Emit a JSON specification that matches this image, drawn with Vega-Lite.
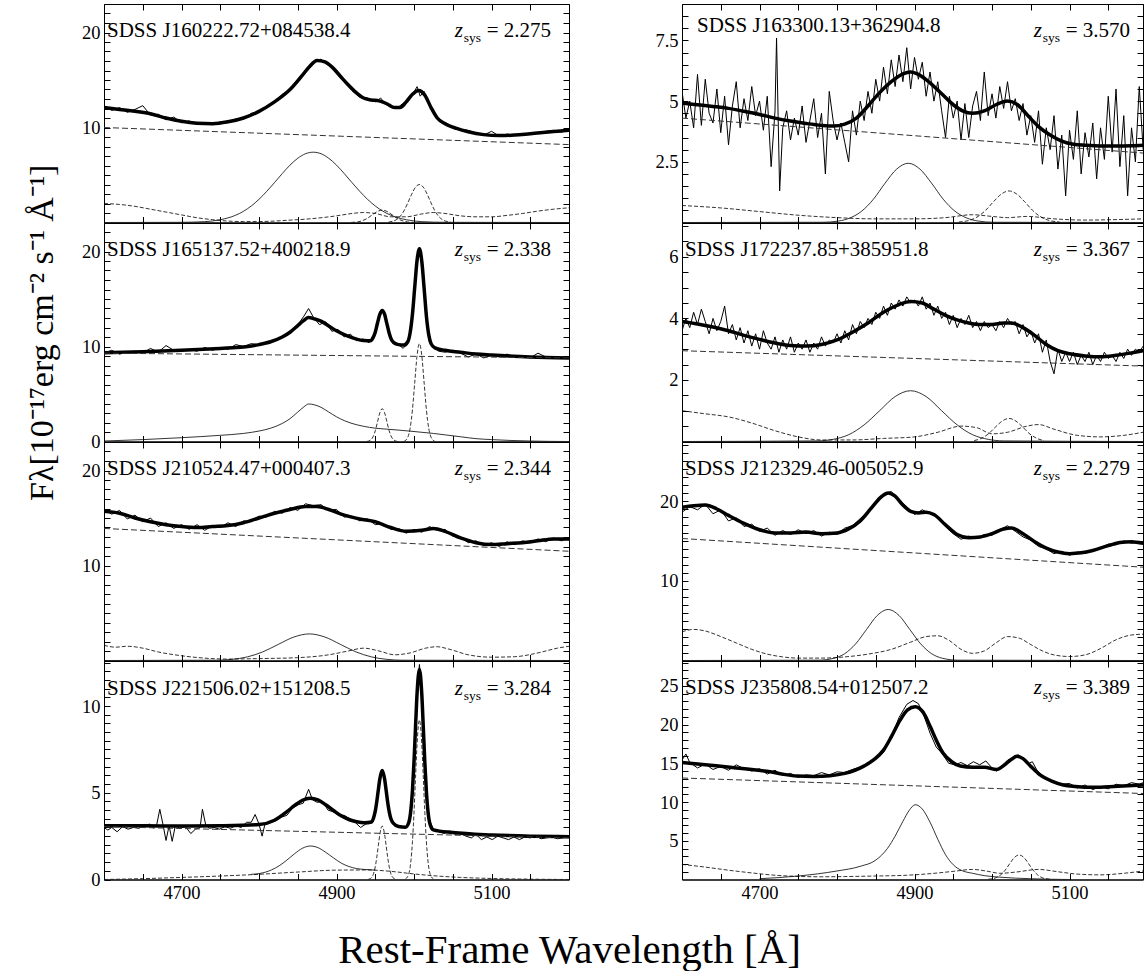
{
"$schema": "https://vega.github.io/schema/vega-lite/v6.json",
"background": "white",
"padding": {"left": 24, "top": 3, "right": 0, "bottom": 0},
"title": {"text": "Rest-Frame Wavelength [Å]", "orient": "bottom", "anchor": "middle", "fontSize": 41, "offset": 28, "dx": -15},
"columns": 2,
"spacing": {"row": 0, "column": 113},
"bounds": "flush",
"concat": [
 {"width": 465, "height": 218.5, "data": {"name": "L1"},
  "layer": [
   {"transform": [{"filter": "datum.s=='o'"}], "mark": {"type": "line", "strokeWidth": 1, "clip": true},
    "encoding": {"x": {"field": "x", "type": "quantitative", "scale": {"domain": [4600, 5200], "nice": false, "zero": false}, "axis": {"values": [4650,4700,4750,4800,4850,4900,4950,5000,5050,5100,5150], "labels": false}},
     "y": {"field": "y", "type": "quantitative", "scale": {"domain": [0, 23], "nice": false, "zero": false}, "axis": {"values": [1,2,3,4,5,6,7,8,9,10,11,12,13,14,15,16,17,18,19,20,21,22], "labelExpr": "datum.value==10||datum.value==20 ? datum.label : ''"}}}},
   {"transform": [{"filter": "datum.s=='m'"}], "mark": {"type": "line", "strokeWidth": 3.5, "interpolate": "monotone", "clip": true},
    "encoding": {"x": {"field": "x", "type": "quantitative", "axis": {"orient": "top", "values": [4650,4700,4750,4800,4850,4900,4950,5000,5050,5100,5150], "labels": false}},
     "y": {"field": "y", "type": "quantitative", "axis": {"orient": "right", "values": [1,2,3,4,5,6,7,8,9,10,11,12,13,14,15,16,17,18,19,20,21,22], "labels": false}}}},
   {"transform": [{"filter": "datum.s=='c'"}], "mark": {"type": "line", "strokeWidth": 1, "strokeDash": [6,3], "color": "#333", "clip": true},
    "encoding": {"x": {"field": "x", "type": "quantitative", "axis": null}, "y": {"field": "y", "type": "quantitative", "axis": null}}},
   {"transform": [{"filter": "datum.s=='b'"}], "mark": {"type": "line", "strokeWidth": 0.8, "interpolate": "monotone", "clip": true},
    "encoding": {"x": {"field": "x", "type": "quantitative", "axis": null}, "y": {"field": "y", "type": "quantitative", "axis": null}}},
   {"transform": [{"filter": "datum.s=='f'||datum.s=='n1'||datum.s=='n2'"}], "mark": {"type": "line", "strokeWidth": 0.8, "strokeDash": [4,2], "interpolate": "monotone", "clip": true},
    "encoding": {"x": {"field": "x", "type": "quantitative", "axis": null}, "y": {"field": "y", "type": "quantitative", "axis": null}, "detail": {"field": "s"}}},
   {"data": {"name": "labels"}, "transform": [{"filter": "datum.p=='L1'"}],
    "encoding": {"y": {"datum": 19.5, "type": "quantitative", "axis": null}},
    "layer": [
     {"mark": {"type": "text", "align": "left", "dx": 3}, "encoding": {"x": {"datum": 4600, "type": "quantitative", "axis": null}, "text": {"field": "name"}}},
     {"mark": {"type": "text", "align": "right", "dx": -18}, "encoding": {"x": {"datum": 5200, "type": "quantitative", "axis": null}, "text": {"field": "z"}}},
     {"mark": {"type": "text", "align": "right", "dx": -88, "dy": 5, "fontSize": 13.5}, "encoding": {"x": {"datum": 5200, "type": "quantitative", "axis": null}, "text": {"value": "sys"}}},
     {"mark": {"type": "text", "align": "right", "dx": -106, "fontStyle": "italic"}, "encoding": {"x": {"datum": 5200, "type": "quantitative", "axis": null}, "text": {"value": "z"}}}
    ]}
  ],
  "resolve": {"axis": {"x": "independent", "y": "independent"}}},
 {"width": 461, "height": 218.5, "data": {"name": "R1"},
  "layer": [
   {"transform": [{"filter": "datum.s=='o'"}], "mark": {"type": "line", "strokeWidth": 1, "clip": true},
    "encoding": {"x": {"field": "x", "type": "quantitative", "scale": {"domain": [4600, 5194.8], "nice": false, "zero": false}, "axis": {"values": [4650,4700,4750,4800,4850,4900,4950,5000,5050,5100,5150], "labels": false}},
     "y": {"field": "y", "type": "quantitative", "scale": {"domain": [0, 9], "nice": false, "zero": false}, "axis": {"values": [0.5,1,1.5,2,2.5,3,3.5,4,4.5,5,5.5,6,6.5,7,7.5,8,8.5], "labelExpr": "datum.value%2.5==0 ? datum.label : ''"}}}},
   {"transform": [{"filter": "datum.s=='m'"}], "mark": {"type": "line", "strokeWidth": 3.5, "interpolate": "monotone", "clip": true},
    "encoding": {"x": {"field": "x", "type": "quantitative", "axis": {"orient": "top", "values": [4650,4700,4750,4800,4850,4900,4950,5000,5050,5100,5150], "labels": false}},
     "y": {"field": "y", "type": "quantitative", "axis": {"orient": "right", "values": [0.5,1,1.5,2,2.5,3,3.5,4,4.5,5,5.5,6,6.5,7,7.5,8,8.5], "labels": false}}}},
   {"transform": [{"filter": "datum.s=='c'"}], "mark": {"type": "line", "strokeWidth": 1, "strokeDash": [6,3], "color": "#333", "clip": true},
    "encoding": {"x": {"field": "x", "type": "quantitative", "axis": null}, "y": {"field": "y", "type": "quantitative", "axis": null}}},
   {"transform": [{"filter": "datum.s=='b'"}], "mark": {"type": "line", "strokeWidth": 0.8, "interpolate": "monotone", "clip": true},
    "encoding": {"x": {"field": "x", "type": "quantitative", "axis": null}, "y": {"field": "y", "type": "quantitative", "axis": null}}},
   {"transform": [{"filter": "datum.s=='f'||datum.s=='n1'||datum.s=='n2'"}], "mark": {"type": "line", "strokeWidth": 0.8, "strokeDash": [4,2], "interpolate": "monotone", "clip": true},
    "encoding": {"x": {"field": "x", "type": "quantitative", "axis": null}, "y": {"field": "y", "type": "quantitative", "axis": null}, "detail": {"field": "s"}}},
   {"data": {"name": "labels"}, "transform": [{"filter": "datum.p=='R1'"}],
    "encoding": {"y": {"datum": 7.64, "type": "quantitative", "axis": null}},
    "layer": [
     {"mark": {"type": "text", "align": "left", "dx": 15}, "encoding": {"x": {"datum": 4600, "type": "quantitative", "axis": null}, "y": {"datum": 7.84, "type": "quantitative", "axis": null}, "text": {"field": "name"}}},
     {"mark": {"type": "text", "align": "right", "dx": -13}, "encoding": {"x": {"datum": 5194.8, "type": "quantitative", "axis": null}, "text": {"field": "z"}}},
     {"mark": {"type": "text", "align": "right", "dx": -83, "dy": 5, "fontSize": 13.5}, "encoding": {"x": {"datum": 5194.8, "type": "quantitative", "axis": null}, "text": {"value": "sys"}}},
     {"mark": {"type": "text", "align": "right", "dx": -101, "fontStyle": "italic"}, "encoding": {"x": {"datum": 5194.8, "type": "quantitative", "axis": null}, "text": {"value": "z"}}}
    ]}
  ],
  "resolve": {"axis": {"x": "independent", "y": "independent"}}},
 {"width": 465, "height": 218.5, "data": {"name": "L2"},
  "layer": [
   {"transform": [{"filter": "datum.s=='o'"}], "mark": {"type": "line", "strokeWidth": 1, "clip": true},
    "encoding": {"x": {"field": "x", "type": "quantitative", "scale": {"domain": [4600, 5200], "nice": false, "zero": false}, "axis": {"values": [4650,4700,4750,4800,4850,4900,4950,5000,5050,5100,5150], "labels": false}},
     "y": {"field": "y", "type": "quantitative", "scale": {"domain": [0, 23], "nice": false, "zero": false}, "axis": {"values": [0,1,2,3,4,5,6,7,8,9,10,11,12,13,14,15,16,17,18,19,20,21,22], "labelExpr": "datum.value%10==0 ? datum.label : ''",
      "title": "Fλ[10⁻¹⁷erg cm⁻² s⁻¹ Å⁻¹]", "titleFont": "Liberation Serif", "titleFontSize": 34, "titleFontWeight": "normal", "titleColor": "black", "titlePadding": 22}}}},
   {"transform": [{"filter": "datum.s=='m'"}], "mark": {"type": "line", "strokeWidth": 3.5, "interpolate": "monotone", "clip": true},
    "encoding": {"x": {"field": "x", "type": "quantitative", "axis": {"orient": "top", "values": [4650,4700,4750,4800,4850,4900,4950,5000,5050,5100,5150], "labels": false}},
     "y": {"field": "y", "type": "quantitative", "axis": {"orient": "right", "values": [1,2,3,4,5,6,7,8,9,10,11,12,13,14,15,16,17,18,19,20,21,22], "labels": false}}}},
   {"transform": [{"filter": "datum.s=='c'"}], "mark": {"type": "line", "strokeWidth": 1, "strokeDash": [6,3], "color": "#333", "clip": true},
    "encoding": {"x": {"field": "x", "type": "quantitative", "axis": null}, "y": {"field": "y", "type": "quantitative", "axis": null}}},
   {"transform": [{"filter": "datum.s=='b'"}], "mark": {"type": "line", "strokeWidth": 0.8, "interpolate": "monotone", "clip": true},
    "encoding": {"x": {"field": "x", "type": "quantitative", "axis": null}, "y": {"field": "y", "type": "quantitative", "axis": null}}},
   {"transform": [{"filter": "datum.s=='f'||datum.s=='n1'||datum.s=='n2'"}], "mark": {"type": "line", "strokeWidth": 0.8, "strokeDash": [4,2], "interpolate": "monotone", "clip": true},
    "encoding": {"x": {"field": "x", "type": "quantitative", "axis": null}, "y": {"field": "y", "type": "quantitative", "axis": null}, "detail": {"field": "s"}}},
   {"data": {"name": "labels"}, "transform": [{"filter": "datum.p=='L2'"}],
    "encoding": {"y": {"datum": 19.5, "type": "quantitative", "axis": null}},
    "layer": [
     {"mark": {"type": "text", "align": "left", "dx": 3}, "encoding": {"x": {"datum": 4600, "type": "quantitative", "axis": null}, "text": {"field": "name"}}},
     {"mark": {"type": "text", "align": "right", "dx": -18}, "encoding": {"x": {"datum": 5200, "type": "quantitative", "axis": null}, "text": {"field": "z"}}},
     {"mark": {"type": "text", "align": "right", "dx": -88, "dy": 5, "fontSize": 13.5}, "encoding": {"x": {"datum": 5200, "type": "quantitative", "axis": null}, "text": {"value": "sys"}}},
     {"mark": {"type": "text", "align": "right", "dx": -106, "fontStyle": "italic"}, "encoding": {"x": {"datum": 5200, "type": "quantitative", "axis": null}, "text": {"value": "z"}}}
    ]}
  ],
  "resolve": {"axis": {"x": "independent", "y": "independent"}}},
 {"width": 461, "height": 218.5, "data": {"name": "R2"},
  "layer": [
   {"transform": [{"filter": "datum.s=='o'"}], "mark": {"type": "line", "strokeWidth": 1, "clip": true},
    "encoding": {"x": {"field": "x", "type": "quantitative", "scale": {"domain": [4600, 5194.8], "nice": false, "zero": false}, "axis": {"values": [4650,4700,4750,4800,4850,4900,4950,5000,5050,5100,5150], "labels": false}},
     "y": {"field": "y", "type": "quantitative", "scale": {"domain": [0, 7.1], "nice": false, "zero": false}, "axis": {"values": [0.5,1,1.5,2,2.5,3,3.5,4,4.5,5,5.5,6,6.5,7], "labelExpr": "datum.value%2==0 ? datum.label : ''"}}}},
   {"transform": [{"filter": "datum.s=='m'"}], "mark": {"type": "line", "strokeWidth": 3.5, "interpolate": "monotone", "clip": true},
    "encoding": {"x": {"field": "x", "type": "quantitative", "axis": {"orient": "top", "values": [4650,4700,4750,4800,4850,4900,4950,5000,5050,5100,5150], "labels": false}},
     "y": {"field": "y", "type": "quantitative", "axis": {"orient": "right", "values": [0.5,1,1.5,2,2.5,3,3.5,4,4.5,5,5.5,6,6.5,7], "labels": false}}}},
   {"transform": [{"filter": "datum.s=='c'"}], "mark": {"type": "line", "strokeWidth": 1, "strokeDash": [6,3], "color": "#333", "clip": true},
    "encoding": {"x": {"field": "x", "type": "quantitative", "axis": null}, "y": {"field": "y", "type": "quantitative", "axis": null}}},
   {"transform": [{"filter": "datum.s=='b'"}], "mark": {"type": "line", "strokeWidth": 0.8, "interpolate": "monotone", "clip": true},
    "encoding": {"x": {"field": "x", "type": "quantitative", "axis": null}, "y": {"field": "y", "type": "quantitative", "axis": null}}},
   {"transform": [{"filter": "datum.s=='f'||datum.s=='n1'||datum.s=='n2'"}], "mark": {"type": "line", "strokeWidth": 0.8, "strokeDash": [4,2], "interpolate": "monotone", "clip": true},
    "encoding": {"x": {"field": "x", "type": "quantitative", "axis": null}, "y": {"field": "y", "type": "quantitative", "axis": null}, "detail": {"field": "s"}}},
   {"data": {"name": "labels"}, "transform": [{"filter": "datum.p=='R2'"}],
    "encoding": {"y": {"datum": 6.03, "type": "quantitative", "axis": null}},
    "layer": [
     {"mark": {"type": "text", "align": "left", "dx": 3}, "encoding": {"x": {"datum": 4600, "type": "quantitative", "axis": null}, "text": {"field": "name"}}},
     {"mark": {"type": "text", "align": "right", "dx": -13}, "encoding": {"x": {"datum": 5194.8, "type": "quantitative", "axis": null}, "text": {"field": "z"}}},
     {"mark": {"type": "text", "align": "right", "dx": -83, "dy": 5, "fontSize": 13.5}, "encoding": {"x": {"datum": 5194.8, "type": "quantitative", "axis": null}, "text": {"value": "sys"}}},
     {"mark": {"type": "text", "align": "right", "dx": -101, "fontStyle": "italic"}, "encoding": {"x": {"datum": 5194.8, "type": "quantitative", "axis": null}, "text": {"value": "z"}}}
    ]}
  ],
  "resolve": {"axis": {"x": "independent", "y": "independent"}}},
 {"width": 465, "height": 218.5, "data": {"name": "L3"},
  "layer": [
   {"transform": [{"filter": "datum.s=='o'"}], "mark": {"type": "line", "strokeWidth": 1, "clip": true},
    "encoding": {"x": {"field": "x", "type": "quantitative", "scale": {"domain": [4600, 5200], "nice": false, "zero": false}, "axis": {"values": [4650,4700,4750,4800,4850,4900,4950,5000,5050,5100,5150], "labels": false}},
     "y": {"field": "y", "type": "quantitative", "scale": {"domain": [0, 23], "nice": false, "zero": false}, "axis": {"values": [1,2,3,4,5,6,7,8,9,10,11,12,13,14,15,16,17,18,19,20,21,22], "labelExpr": "datum.value==10||datum.value==20 ? datum.label : ''"}}}},
   {"transform": [{"filter": "datum.s=='m'"}], "mark": {"type": "line", "strokeWidth": 3.5, "interpolate": "monotone", "clip": true},
    "encoding": {"x": {"field": "x", "type": "quantitative", "axis": {"orient": "top", "values": [4650,4700,4750,4800,4850,4900,4950,5000,5050,5100,5150], "labels": false}},
     "y": {"field": "y", "type": "quantitative", "axis": {"orient": "right", "values": [1,2,3,4,5,6,7,8,9,10,11,12,13,14,15,16,17,18,19,20,21,22], "labels": false}}}},
   {"transform": [{"filter": "datum.s=='c'"}], "mark": {"type": "line", "strokeWidth": 1, "strokeDash": [6,3], "color": "#333", "clip": true},
    "encoding": {"x": {"field": "x", "type": "quantitative", "axis": null}, "y": {"field": "y", "type": "quantitative", "axis": null}}},
   {"transform": [{"filter": "datum.s=='b'"}], "mark": {"type": "line", "strokeWidth": 0.8, "interpolate": "monotone", "clip": true},
    "encoding": {"x": {"field": "x", "type": "quantitative", "axis": null}, "y": {"field": "y", "type": "quantitative", "axis": null}}},
   {"transform": [{"filter": "datum.s=='f'||datum.s=='n1'||datum.s=='n2'"}], "mark": {"type": "line", "strokeWidth": 0.8, "strokeDash": [4,2], "interpolate": "monotone", "clip": true},
    "encoding": {"x": {"field": "x", "type": "quantitative", "axis": null}, "y": {"field": "y", "type": "quantitative", "axis": null}, "detail": {"field": "s"}}},
   {"data": {"name": "labels"}, "transform": [{"filter": "datum.p=='L3'"}],
    "encoding": {"y": {"datum": 19.5, "type": "quantitative", "axis": null}},
    "layer": [
     {"mark": {"type": "text", "align": "left", "dx": 3}, "encoding": {"x": {"datum": 4600, "type": "quantitative", "axis": null}, "text": {"field": "name"}}},
     {"mark": {"type": "text", "align": "right", "dx": -18}, "encoding": {"x": {"datum": 5200, "type": "quantitative", "axis": null}, "text": {"field": "z"}}},
     {"mark": {"type": "text", "align": "right", "dx": -88, "dy": 5, "fontSize": 13.5}, "encoding": {"x": {"datum": 5200, "type": "quantitative", "axis": null}, "text": {"value": "sys"}}},
     {"mark": {"type": "text", "align": "right", "dx": -106, "fontStyle": "italic"}, "encoding": {"x": {"datum": 5200, "type": "quantitative", "axis": null}, "text": {"value": "z"}}}
    ]}
  ],
  "resolve": {"axis": {"x": "independent", "y": "independent"}}},
 {"width": 461, "height": 218.5, "data": {"name": "R3"},
  "layer": [
   {"transform": [{"filter": "datum.s=='o'"}], "mark": {"type": "line", "strokeWidth": 1, "clip": true},
    "encoding": {"x": {"field": "x", "type": "quantitative", "scale": {"domain": [4600, 5194.8], "nice": false, "zero": false}, "axis": {"values": [4650,4700,4750,4800,4850,4900,4950,5000,5050,5100,5150], "labels": false}},
     "y": {"field": "y", "type": "quantitative", "scale": {"domain": [0, 27.4], "nice": false, "zero": false}, "axis": {"values": [1,2,3,4,5,6,7,8,9,10,11,12,13,14,15,16,17,18,19,20,21,22,23,24,25,26,27], "labelExpr": "datum.value==10||datum.value==20 ? datum.label : ''"}}}},
   {"transform": [{"filter": "datum.s=='m'"}], "mark": {"type": "line", "strokeWidth": 3.5, "interpolate": "monotone", "clip": true},
    "encoding": {"x": {"field": "x", "type": "quantitative", "axis": {"orient": "top", "values": [4650,4700,4750,4800,4850,4900,4950,5000,5050,5100,5150], "labels": false}},
     "y": {"field": "y", "type": "quantitative", "axis": {"orient": "right", "values": [1,2,3,4,5,6,7,8,9,10,11,12,13,14,15,16,17,18,19,20,21,22,23,24,25,26,27], "labels": false}}}},
   {"transform": [{"filter": "datum.s=='c'"}], "mark": {"type": "line", "strokeWidth": 1, "strokeDash": [6,3], "color": "#333", "clip": true},
    "encoding": {"x": {"field": "x", "type": "quantitative", "axis": null}, "y": {"field": "y", "type": "quantitative", "axis": null}}},
   {"transform": [{"filter": "datum.s=='b'"}], "mark": {"type": "line", "strokeWidth": 0.8, "interpolate": "monotone", "clip": true},
    "encoding": {"x": {"field": "x", "type": "quantitative", "axis": null}, "y": {"field": "y", "type": "quantitative", "axis": null}}},
   {"transform": [{"filter": "datum.s=='f'||datum.s=='n1'||datum.s=='n2'"}], "mark": {"type": "line", "strokeWidth": 0.8, "strokeDash": [4,2], "interpolate": "monotone", "clip": true},
    "encoding": {"x": {"field": "x", "type": "quantitative", "axis": null}, "y": {"field": "y", "type": "quantitative", "axis": null}, "detail": {"field": "s"}}},
   {"data": {"name": "labels"}, "transform": [{"filter": "datum.p=='R3'"}],
    "encoding": {"y": {"datum": 23.25, "type": "quantitative", "axis": null}},
    "layer": [
     {"mark": {"type": "text", "align": "left", "dx": 3}, "encoding": {"x": {"datum": 4600, "type": "quantitative", "axis": null}, "text": {"field": "name"}}},
     {"mark": {"type": "text", "align": "right", "dx": -13}, "encoding": {"x": {"datum": 5194.8, "type": "quantitative", "axis": null}, "text": {"field": "z"}}},
     {"mark": {"type": "text", "align": "right", "dx": -83, "dy": 5, "fontSize": 13.5}, "encoding": {"x": {"datum": 5194.8, "type": "quantitative", "axis": null}, "text": {"value": "sys"}}},
     {"mark": {"type": "text", "align": "right", "dx": -101, "fontStyle": "italic"}, "encoding": {"x": {"datum": 5194.8, "type": "quantitative", "axis": null}, "text": {"value": "z"}}}
    ]}
  ],
  "resolve": {"axis": {"x": "independent", "y": "independent"}}},
 {"width": 465, "height": 218.5, "data": {"name": "L4"},
  "layer": [
   {"transform": [{"filter": "datum.s=='o'"}], "mark": {"type": "line", "strokeWidth": 1, "clip": true},
    "encoding": {"x": {"field": "x", "type": "quantitative", "scale": {"domain": [4600, 5200], "nice": false, "zero": false}, "axis": {"values": [4650,4700,4750,4800,4850,4900,4950,5000,5050,5100,5150], "format": "d", "labelExpr": "datum.value==4700||datum.value==4900||datum.value==5100 ? datum.label : ''"}},
     "y": {"field": "y", "type": "quantitative", "scale": {"domain": [0, 12.6], "nice": false, "zero": false}, "axis": {"values": [0,0.5,1,1.5,2,2.5,3,3.5,4,4.5,5,5.5,6,6.5,7,7.5,8,8.5,9,9.5,10,10.5,11,11.5,12,12.5], "labelExpr": "datum.value%5==0 ? datum.label : ''"}}}},
   {"transform": [{"filter": "datum.s=='m'"}], "mark": {"type": "line", "strokeWidth": 3.5, "interpolate": "monotone", "clip": true},
    "encoding": {"x": {"field": "x", "type": "quantitative", "axis": {"orient": "top", "values": [4650,4700,4750,4800,4850,4900,4950,5000,5050,5100,5150], "labels": false}},
     "y": {"field": "y", "type": "quantitative", "axis": {"orient": "right", "values": [0.5,1,1.5,2,2.5,3,3.5,4,4.5,5,5.5,6,6.5,7,7.5,8,8.5,9,9.5,10,10.5,11,11.5,12,12.5], "labels": false}}}},
   {"transform": [{"filter": "datum.s=='c'"}], "mark": {"type": "line", "strokeWidth": 1, "strokeDash": [6,3], "color": "#333", "clip": true},
    "encoding": {"x": {"field": "x", "type": "quantitative", "axis": null}, "y": {"field": "y", "type": "quantitative", "axis": null}}},
   {"transform": [{"filter": "datum.s=='b'"}], "mark": {"type": "line", "strokeWidth": 0.8, "interpolate": "monotone", "clip": true},
    "encoding": {"x": {"field": "x", "type": "quantitative", "axis": null}, "y": {"field": "y", "type": "quantitative", "axis": null}}},
   {"transform": [{"filter": "datum.s=='f'||datum.s=='n1'||datum.s=='n2'"}], "mark": {"type": "line", "strokeWidth": 0.8, "strokeDash": [4,2], "interpolate": "monotone", "clip": true},
    "encoding": {"x": {"field": "x", "type": "quantitative", "axis": null}, "y": {"field": "y", "type": "quantitative", "axis": null}, "detail": {"field": "s"}}},
   {"data": {"name": "labels"}, "transform": [{"filter": "datum.p=='L4'"}],
    "encoding": {"y": {"datum": 10.65, "type": "quantitative", "axis": null}},
    "layer": [
     {"mark": {"type": "text", "align": "left", "dx": 3}, "encoding": {"x": {"datum": 4600, "type": "quantitative", "axis": null}, "text": {"field": "name"}}},
     {"mark": {"type": "text", "align": "right", "dx": -18}, "encoding": {"x": {"datum": 5200, "type": "quantitative", "axis": null}, "text": {"field": "z"}}},
     {"mark": {"type": "text", "align": "right", "dx": -88, "dy": 5, "fontSize": 13.5}, "encoding": {"x": {"datum": 5200, "type": "quantitative", "axis": null}, "text": {"value": "sys"}}},
     {"mark": {"type": "text", "align": "right", "dx": -106, "fontStyle": "italic"}, "encoding": {"x": {"datum": 5200, "type": "quantitative", "axis": null}, "text": {"value": "z"}}}
    ]}
  ],
  "resolve": {"axis": {"x": "independent", "y": "independent"}}},
 {"width": 461, "height": 218.5, "data": {"name": "R4"},
  "layer": [
   {"transform": [{"filter": "datum.s=='o'"}], "mark": {"type": "line", "strokeWidth": 1, "clip": true},
    "encoding": {"x": {"field": "x", "type": "quantitative", "scale": {"domain": [4600, 5194.8], "nice": false, "zero": false}, "axis": {"values": [4650,4700,4750,4800,4850,4900,4950,5000,5050,5100,5150], "format": "d", "labelExpr": "datum.value==4700||datum.value==4900||datum.value==5100 ? datum.label : ''"}},
     "y": {"field": "y", "type": "quantitative", "scale": {"domain": [0, 28.2], "nice": false, "zero": false}, "axis": {"values": [1,2,3,4,5,6,7,8,9,10,11,12,13,14,15,16,17,18,19,20,21,22,23,24,25,26,27,28], "labelExpr": "datum.value%5==0 ? datum.label : ''"}}}},
   {"transform": [{"filter": "datum.s=='m'"}], "mark": {"type": "line", "strokeWidth": 3.5, "interpolate": "monotone", "clip": true},
    "encoding": {"x": {"field": "x", "type": "quantitative", "axis": {"orient": "top", "values": [4650,4700,4750,4800,4850,4900,4950,5000,5050,5100,5150], "labels": false}},
     "y": {"field": "y", "type": "quantitative", "axis": {"orient": "right", "values": [1,2,3,4,5,6,7,8,9,10,11,12,13,14,15,16,17,18,19,20,21,22,23,24,25,26,27,28], "labels": false}}}},
   {"transform": [{"filter": "datum.s=='c'"}], "mark": {"type": "line", "strokeWidth": 1, "strokeDash": [6,3], "color": "#333", "clip": true},
    "encoding": {"x": {"field": "x", "type": "quantitative", "axis": null}, "y": {"field": "y", "type": "quantitative", "axis": null}}},
   {"transform": [{"filter": "datum.s=='b'"}], "mark": {"type": "line", "strokeWidth": 0.8, "interpolate": "monotone", "clip": true},
    "encoding": {"x": {"field": "x", "type": "quantitative", "axis": null}, "y": {"field": "y", "type": "quantitative", "axis": null}}},
   {"transform": [{"filter": "datum.s=='f'||datum.s=='n1'||datum.s=='n2'"}], "mark": {"type": "line", "strokeWidth": 0.8, "strokeDash": [4,2], "interpolate": "monotone", "clip": true},
    "encoding": {"x": {"field": "x", "type": "quantitative", "axis": null}, "y": {"field": "y", "type": "quantitative", "axis": null}, "detail": {"field": "s"}}},
   {"data": {"name": "labels"}, "transform": [{"filter": "datum.p=='R4'"}],
    "encoding": {"y": {"datum": 23.97, "type": "quantitative", "axis": null}},
    "layer": [
     {"mark": {"type": "text", "align": "left", "dx": 3}, "encoding": {"x": {"datum": 4600, "type": "quantitative", "axis": null}, "text": {"field": "name"}}},
     {"mark": {"type": "text", "align": "right", "dx": -13}, "encoding": {"x": {"datum": 5194.8, "type": "quantitative", "axis": null}, "text": {"field": "z"}}},
     {"mark": {"type": "text", "align": "right", "dx": -83, "dy": 5, "fontSize": 13.5}, "encoding": {"x": {"datum": 5194.8, "type": "quantitative", "axis": null}, "text": {"value": "sys"}}},
     {"mark": {"type": "text", "align": "right", "dx": -101, "fontStyle": "italic"}, "encoding": {"x": {"datum": 5194.8, "type": "quantitative", "axis": null}, "text": {"value": "z"}}}
    ]}
  ],
  "resolve": {"axis": {"x": "independent", "y": "independent"}}}
],
"datasets": {
"labels": [
 {"p": "L1", "name": "SDSS J160222.72+084538.4", "z": "= 2.275"},
 {"p": "L2", "name": "SDSS J165137.52+400218.9", "z": "= 2.338"},
 {"p": "L3", "name": "SDSS J210524.47+000407.3", "z": "= 2.344"},
 {"p": "L4", "name": "SDSS J221506.02+151208.5", "z": "= 3.284"},
 {"p": "R1", "name": "SDSS J163300.13+362904.8", "z": "= 3.570"},
 {"p": "R2", "name": "SDSS J172237.85+385951.8", "z": "= 3.367"},
 {"p": "R3", "name": "SDSS J212329.46-005052.9", "z": "= 2.279"},
 {"p": "R4", "name": "SDSS J235808.54+012507.2", "z": "= 3.389"}
],
"L1": [
{"s":"o","x":4600,"y":12.3},{"s":"o","x":4610,"y":11.8},{"s":"o","x":4620,"y":12.1},{"s":"o","x":4630,"y":11.6},{"s":"o","x":4640,"y":11.9},{"s":"o","x":4650,"y":12.3},{"s":"o","x":4660,"y":11.3},{"s":"o","x":4670,"y":11.4},{"s":"o","x":4680,"y":10.8},{"s":"o","x":4690,"y":11.1},{"s":"o","x":4700,"y":10.5},{"s":"o","x":4710,"y":10.7},{"s":"o","x":4720,"y":10.3},{"s":"o","x":4730,"y":10.5},{"s":"o","x":4740,"y":10.3},{"s":"o","x":4750,"y":10.6},{"s":"o","x":4760,"y":10.5},{"s":"o","x":4770,"y":10.9},{"s":"o","x":4780,"y":10.9},{"s":"o","x":4790,"y":11.5},{"s":"o","x":4800,"y":11.6},{"s":"o","x":4810,"y":12.2},{"s":"o","x":4820,"y":12.6},{"s":"o","x":4830,"y":13.5},{"s":"o","x":4840,"y":13.9},{"s":"o","x":4850,"y":15.1},{"s":"o","x":4860,"y":16.0},{"s":"o","x":4870,"y":16.9},{"s":"o","x":4880,"y":17.2},{"s":"o","x":4890,"y":16.5},{"s":"o","x":4900,"y":15.9},{"s":"o","x":4910,"y":14.8},{"s":"o","x":4920,"y":13.9},{"s":"o","x":4930,"y":13.2},{"s":"o","x":4940,"y":13.1},{"s":"o","x":4950,"y":12.7},{"s":"o","x":4957,"y":13.1},{"s":"o","x":4964,"y":12.4},{"s":"o","x":4971,"y":12.2},{"s":"o","x":4978,"y":12.0},{"s":"o","x":4985,"y":12.5},{"s":"o","x":4992,"y":12.9},{"s":"o","x":4999,"y":13.6},{"s":"o","x":5004,"y":14.3},{"s":"o","x":5008,"y":13.3},{"s":"o","x":5013,"y":13.8},{"s":"o","x":5020,"y":12.5},{"s":"o","x":5027,"y":11.3},{"s":"o","x":5034,"y":10.6},{"s":"o","x":5041,"y":10.5},{"s":"o","x":5050,"y":10.1},{"s":"o","x":5060,"y":9.8},{"s":"o","x":5070,"y":9.7},{"s":"o","x":5080,"y":9.4},{"s":"o","x":5090,"y":9.2},{"s":"o","x":5100,"y":9.6},{"s":"o","x":5110,"y":9.1},{"s":"o","x":5120,"y":9.3},{"s":"o","x":5130,"y":9.2},{"s":"o","x":5140,"y":9.3},{"s":"o","x":5150,"y":9.4},{"s":"o","x":5160,"y":9.4},{"s":"o","x":5170,"y":9.6},{"s":"o","x":5180,"y":9.7},{"s":"o","x":5190,"y":9.5},{"s":"o","x":5200,"y":9.8},
{"s":"m","x":4600,"y":12.1},{"s":"m","x":4620,"y":11.9},{"s":"m","x":4640,"y":11.7},{"s":"m","x":4660,"y":11.45},{"s":"m","x":4680,"y":11.0},{"s":"m","x":4700,"y":10.65},{"s":"m","x":4720,"y":10.45},{"s":"m","x":4740,"y":10.4},{"s":"m","x":4760,"y":10.6},{"s":"m","x":4780,"y":11.0},{"s":"m","x":4800,"y":11.7},{"s":"m","x":4820,"y":12.7},{"s":"m","x":4840,"y":14.0},{"s":"m","x":4855,"y":15.4},{"s":"m","x":4865,"y":16.4},{"s":"m","x":4875,"y":17.05},{"s":"m","x":4885,"y":16.9},{"s":"m","x":4895,"y":16.3},{"s":"m","x":4905,"y":15.4},{"s":"m","x":4915,"y":14.5},{"s":"m","x":4925,"y":13.7},{"s":"m","x":4935,"y":13.1},{"s":"m","x":4945,"y":12.9},{"s":"m","x":4955,"y":12.8},{"s":"m","x":4965,"y":12.5},{"s":"m","x":4975,"y":12.1},{"s":"m","x":4982,"y":12.1},{"s":"m","x":4990,"y":12.7},{"s":"m","x":4998,"y":13.5},{"s":"m","x":5006,"y":13.9},{"s":"m","x":5014,"y":13.4},{"s":"m","x":5022,"y":12.1},{"s":"m","x":5030,"y":11.0},{"s":"m","x":5040,"y":10.4},{"s":"m","x":5055,"y":9.9},{"s":"m","x":5070,"y":9.55},{"s":"m","x":5090,"y":9.25},{"s":"m","x":5110,"y":9.15},{"s":"m","x":5130,"y":9.2},{"s":"m","x":5150,"y":9.35},{"s":"m","x":5170,"y":9.5},{"s":"m","x":5185,"y":9.6},{"s":"m","x":5200,"y":9.7},
{"s":"c","x":4600,"y":10.0},{"s":"c","x":5200,"y":8.2},
{"s":"b","x":4600,"y":0},{"s":"b","x":4700,"y":0.02},{"s":"b","x":4730,"y":0.09},{"s":"b","x":4750,"y":0.29},{"s":"b","x":4770,"y":0.77},{"s":"b","x":4780,"y":1.18},{"s":"b","x":4790,"y":1.74},{"s":"b","x":4800,"y":2.44},{"s":"b","x":4810,"y":3.28},{"s":"b","x":4820,"y":4.2},{"s":"b","x":4830,"y":5.15},{"s":"b","x":4840,"y":6.04},{"s":"b","x":4850,"y":6.76},{"s":"b","x":4860,"y":7.24},{"s":"b","x":4870,"y":7.4},{"s":"b","x":4880,"y":7.24},{"s":"b","x":4890,"y":6.76},{"s":"b","x":4900,"y":6.04},{"s":"b","x":4910,"y":5.15},{"s":"b","x":4920,"y":4.2},{"s":"b","x":4930,"y":3.28},{"s":"b","x":4940,"y":2.44},{"s":"b","x":4950,"y":1.74},{"s":"b","x":4960,"y":1.18},{"s":"b","x":4970,"y":0.77},{"s":"b","x":4990,"y":0.29},{"s":"b","x":5010,"y":0.09},{"s":"b","x":5040,"y":0.02},{"s":"b","x":5200,"y":0},
{"s":"f","x":4600,"y":2.0},{"s":"f","x":4620,"y":1.9},{"s":"f","x":4640,"y":1.7},{"s":"f","x":4660,"y":1.4},{"s":"f","x":4680,"y":1.1},{"s":"f","x":4700,"y":0.8},{"s":"f","x":4720,"y":0.5},{"s":"f","x":4740,"y":0.3},{"s":"f","x":4760,"y":0.15},{"s":"f","x":4780,"y":0.1},{"s":"f","x":4800,"y":0.1},{"s":"f","x":4820,"y":0.15},{"s":"f","x":4840,"y":0.25},{"s":"f","x":4860,"y":0.35},{"s":"f","x":4880,"y":0.5},{"s":"f","x":4900,"y":0.7},{"s":"f","x":4920,"y":0.95},{"s":"f","x":4935,"y":1.05},{"s":"f","x":4950,"y":0.95},{"s":"f","x":4970,"y":0.6},{"s":"f","x":4990,"y":0.6},{"s":"f","x":5010,"y":0.9},{"s":"f","x":5025,"y":1.05},{"s":"f","x":5040,"y":0.95},{"s":"f","x":5060,"y":0.7},{"s":"f","x":5080,"y":0.6},{"s":"f","x":5100,"y":0.6},{"s":"f","x":5120,"y":0.75},{"s":"f","x":5140,"y":0.95},{"s":"f","x":5160,"y":1.2},{"s":"f","x":5180,"y":1.4},{"s":"f","x":5200,"y":1.55},
{"s":"n1","x":4919,"y":0.01},{"s":"n1","x":4929,"y":0.09},{"s":"n1","x":4939,"y":0.4},{"s":"n1","x":4949,"y":0.97},{"s":"n1","x":4954,"y":1.21},{"s":"n1","x":4959,"y":1.3},{"s":"n1","x":4964,"y":1.21},{"s":"n1","x":4969,"y":0.97},{"s":"n1","x":4979,"y":0.4},{"s":"n1","x":4989,"y":0.09},{"s":"n1","x":4999,"y":0.01},
{"s":"n2","x":4967,"y":0.04},{"s":"n2","x":4977,"y":0.28},{"s":"n2","x":4982,"y":0.63},{"s":"n2","x":4987,"y":1.22},{"s":"n2","x":4992,"y":2.06},{"s":"n2","x":4997,"y":2.98},{"s":"n2","x":5002,"y":3.72},{"s":"n2","x":5007,"y":4.0},{"s":"n2","x":5012,"y":3.72},{"s":"n2","x":5017,"y":2.98},{"s":"n2","x":5022,"y":2.06},{"s":"n2","x":5027,"y":1.22},{"s":"n2","x":5032,"y":0.63},{"s":"n2","x":5037,"y":0.28},{"s":"n2","x":5047,"y":0.04}
],
"L2": [
{"s":"o","x":4600,"y":9.3},{"s":"o","x":4610,"y":9.6},{"s":"o","x":4620,"y":9.2},{"s":"o","x":4630,"y":9.4},{"s":"o","x":4640,"y":9.5},{"s":"o","x":4650,"y":9.3},{"s":"o","x":4660,"y":9.8},{"s":"o","x":4670,"y":9.4},{"s":"o","x":4680,"y":10.1},{"s":"o","x":4690,"y":9.6},{"s":"o","x":4700,"y":9.5},{"s":"o","x":4710,"y":9.7},{"s":"o","x":4720,"y":9.5},{"s":"o","x":4730,"y":9.9},{"s":"o","x":4740,"y":9.6},{"s":"o","x":4750,"y":9.9},{"s":"o","x":4760,"y":9.7},{"s":"o","x":4770,"y":10.2},{"s":"o","x":4780,"y":10.0},{"s":"o","x":4790,"y":10.3},{"s":"o","x":4800,"y":10.2},{"s":"o","x":4810,"y":10.5},{"s":"o","x":4820,"y":10.6},{"s":"o","x":4830,"y":11.1},{"s":"o","x":4840,"y":11.5},{"s":"o","x":4850,"y":12.3},{"s":"o","x":4858,"y":13.2},{"s":"o","x":4864,"y":14.0},{"s":"o","x":4870,"y":13.1},{"s":"o","x":4878,"y":12.3},{"s":"o","x":4886,"y":12.6},{"s":"o","x":4894,"y":11.6},{"s":"o","x":4902,"y":11.8},{"s":"o","x":4910,"y":11.0},{"s":"o","x":4918,"y":11.3},{"s":"o","x":4926,"y":10.6},{"s":"o","x":4934,"y":10.8},{"s":"o","x":4942,"y":10.4},{"s":"o","x":4948,"y":11.0},{"s":"o","x":4953,"y":12.5},{"s":"o","x":4957,"y":13.5},{"s":"o","x":4960,"y":13.8},{"s":"o","x":4964,"y":12.9},{"s":"o","x":4968,"y":11.2},{"s":"o","x":4973,"y":10.3},{"s":"o","x":4980,"y":10.2},{"s":"o","x":4986,"y":9.8},{"s":"o","x":4992,"y":10.4},{"s":"o","x":4996,"y":12.0},{"s":"o","x":5000,"y":15.2},{"s":"o","x":5004,"y":18.7},{"s":"o","x":5007,"y":20.4},{"s":"o","x":5010,"y":18.9},{"s":"o","x":5013,"y":16.2},{"s":"o","x":5016,"y":12.9},{"s":"o","x":5020,"y":10.8},{"s":"o","x":5025,"y":9.9},{"s":"o","x":5032,"y":9.5},{"s":"o","x":5040,"y":9.4},{"s":"o","x":5050,"y":9.6},{"s":"o","x":5060,"y":9.3},{"s":"o","x":5070,"y":8.9},{"s":"o","x":5080,"y":9.2},{"s":"o","x":5090,"y":8.8},{"s":"o","x":5100,"y":9.1},{"s":"o","x":5110,"y":8.9},{"s":"o","x":5120,"y":9.2},{"s":"o","x":5130,"y":8.9},{"s":"o","x":5140,"y":9.0},{"s":"o","x":5150,"y":8.8},{"s":"o","x":5160,"y":9.3},{"s":"o","x":5170,"y":8.9},{"s":"o","x":5180,"y":8.9},{"s":"o","x":5190,"y":8.8},{"s":"o","x":5200,"y":8.9},
{"s":"m","x":4600,"y":9.35},{"s":"m","x":4650,"y":9.45},{"s":"m","x":4700,"y":9.6},{"s":"m","x":4750,"y":9.8},{"s":"m","x":4780,"y":9.95},{"s":"m","x":4800,"y":10.2},{"s":"m","x":4815,"y":10.5},{"s":"m","x":4830,"y":11.0},{"s":"m","x":4840,"y":11.5},{"s":"m","x":4850,"y":12.2},{"s":"m","x":4858,"y":12.75},{"s":"m","x":4864,"y":13.05},{"s":"m","x":4872,"y":12.9},{"s":"m","x":4880,"y":12.67},{"s":"m","x":4890,"y":12.16},{"s":"m","x":4900,"y":11.65},{"s":"m","x":4910,"y":11.24},{"s":"m","x":4920,"y":10.93},{"s":"m","x":4935,"y":10.62},{"s":"m","x":4944,"y":10.6},{"s":"m","x":4947,"y":10.9},{"s":"m","x":4950,"y":11.5},{"s":"m","x":4953,"y":12.5},{"s":"m","x":4956,"y":13.4},{"s":"m","x":4959,"y":13.8},{"s":"m","x":4962,"y":13.4},{"s":"m","x":4965,"y":12.4},{"s":"m","x":4968,"y":11.4},{"s":"m","x":4971,"y":10.7},{"s":"m","x":4974,"y":10.4},{"s":"m","x":4980,"y":10.2},{"s":"m","x":4987,"y":10.15},{"s":"m","x":4992,"y":10.5},{"s":"m","x":4995,"y":11.45},{"s":"m","x":4998,"y":13.4},{"s":"m","x":5001,"y":16.3},{"s":"m","x":5004,"y":19.1},{"s":"m","x":5007,"y":20.3},{"s":"m","x":5010,"y":19.0},{"s":"m","x":5013,"y":16.2},{"s":"m","x":5016,"y":13.2},{"s":"m","x":5019,"y":11.25},{"s":"m","x":5022,"y":10.3},{"s":"m","x":5027,"y":9.85},{"s":"m","x":5040,"y":9.6},{"s":"m","x":5060,"y":9.4},{"s":"m","x":5080,"y":9.2},{"s":"m","x":5100,"y":9.1},{"s":"m","x":5150,"y":8.9},{"s":"m","x":5200,"y":8.8},
{"s":"c","x":4600,"y":9.3},{"s":"c","x":5200,"y":8.8},
{"s":"b","x":4600,"y":0.05},{"s":"b","x":4650,"y":0.2},{"s":"b","x":4700,"y":0.4},{"s":"b","x":4750,"y":0.65},{"s":"b","x":4780,"y":0.85},{"s":"b","x":4800,"y":1.1},{"s":"b","x":4815,"y":1.4},{"s":"b","x":4830,"y":1.9},{"s":"b","x":4840,"y":2.4},{"s":"b","x":4850,"y":3.1},{"s":"b","x":4858,"y":3.65},{"s":"b","x":4864,"y":3.95},{"s":"b","x":4872,"y":3.85},{"s":"b","x":4880,"y":3.6},{"s":"b","x":4890,"y":3.1},{"s":"b","x":4900,"y":2.6},{"s":"b","x":4910,"y":2.2},{"s":"b","x":4920,"y":1.9},{"s":"b","x":4935,"y":1.6},{"s":"b","x":4950,"y":1.4},{"s":"b","x":4965,"y":1.3},{"s":"b","x":4980,"y":1.2},{"s":"b","x":5000,"y":1.05},{"s":"b","x":5025,"y":0.85},{"s":"b","x":5040,"y":0.7},{"s":"b","x":5060,"y":0.5},{"s":"b","x":5080,"y":0.3},{"s":"b","x":5100,"y":0.2},{"s":"b","x":5150,"y":0.05},{"s":"b","x":5200,"y":0},
{"s":"n1","x":4939,"y":0},{"s":"n1","x":4944,"y":0.15},{"s":"n1","x":4947,"y":0.47},{"s":"n1","x":4950,"y":1.12},{"s":"n1","x":4953,"y":2.09},{"s":"n1","x":4956,"y":3.04},{"s":"n1","x":4959,"y":3.45},{"s":"n1","x":4962,"y":3.04},{"s":"n1","x":4965,"y":2.09},{"s":"n1","x":4968,"y":1.12},{"s":"n1","x":4971,"y":0.47},{"s":"n1","x":4974,"y":0.15},{"s":"n1","x":4979,"y":0},
{"s":"n2","x":4987,"y":0},{"s":"n2","x":4992,"y":0.45},{"s":"n2","x":4995,"y":1.39},{"s":"n2","x":4998,"y":3.35},{"s":"n2","x":5001,"y":6.25},{"s":"n2","x":5004,"y":9.08},{"s":"n2","x":5007,"y":10.3},{"s":"n2","x":5010,"y":9.08},{"s":"n2","x":5013,"y":6.25},{"s":"n2","x":5016,"y":3.35},{"s":"n2","x":5019,"y":1.39},{"s":"n2","x":5022,"y":0.45},{"s":"n2","x":5027,"y":0}
],
"L3": [
{"s":"o","x":4600,"y":15.9},{"s":"o","x":4610,"y":15.4},{"s":"o","x":4620,"y":15.8},{"s":"o","x":4630,"y":14.9},{"s":"o","x":4640,"y":15.3},{"s":"o","x":4650,"y":14.6},{"s":"o","x":4660,"y":15.0},{"s":"o","x":4670,"y":14.1},{"s":"o","x":4680,"y":14.5},{"s":"o","x":4690,"y":13.9},{"s":"o","x":4700,"y":14.3},{"s":"o","x":4710,"y":13.8},{"s":"o","x":4720,"y":14.3},{"s":"o","x":4730,"y":13.7},{"s":"o","x":4740,"y":14.2},{"s":"o","x":4750,"y":14.0},{"s":"o","x":4760,"y":14.5},{"s":"o","x":4770,"y":14.1},{"s":"o","x":4780,"y":14.7},{"s":"o","x":4790,"y":14.6},{"s":"o","x":4800,"y":15.2},{"s":"o","x":4810,"y":15.1},{"s":"o","x":4820,"y":15.7},{"s":"o","x":4830,"y":15.5},{"s":"o","x":4840,"y":16.1},{"s":"o","x":4850,"y":15.8},{"s":"o","x":4860,"y":16.5},{"s":"o","x":4870,"y":16.3},{"s":"o","x":4880,"y":16.4},{"s":"o","x":4890,"y":15.8},{"s":"o","x":4900,"y":15.9},{"s":"o","x":4910,"y":15.1},{"s":"o","x":4920,"y":15.2},{"s":"o","x":4930,"y":14.7},{"s":"o","x":4940,"y":14.9},{"s":"o","x":4950,"y":14.3},{"s":"o","x":4960,"y":14.4},{"s":"o","x":4970,"y":13.8},{"s":"o","x":4980,"y":13.9},{"s":"o","x":4990,"y":13.4},{"s":"o","x":5000,"y":13.8},{"s":"o","x":5010,"y":13.5},{"s":"o","x":5020,"y":14.1},{"s":"o","x":5030,"y":13.7},{"s":"o","x":5040,"y":13.8},{"s":"o","x":5050,"y":13.1},{"s":"o","x":5060,"y":13.0},{"s":"o","x":5070,"y":12.4},{"s":"o","x":5080,"y":12.6},{"s":"o","x":5090,"y":12.1},{"s":"o","x":5100,"y":12.4},{"s":"o","x":5110,"y":12.0},{"s":"o","x":5120,"y":12.5},{"s":"o","x":5130,"y":12.2},{"s":"o","x":5140,"y":12.6},{"s":"o","x":5150,"y":12.4},{"s":"o","x":5160,"y":12.8},{"s":"o","x":5170,"y":12.5},{"s":"o","x":5180,"y":12.9},{"s":"o","x":5190,"y":12.6},{"s":"o","x":5200,"y":12.9},
{"s":"m","x":4600,"y":15.7},{"s":"m","x":4620,"y":15.5},{"s":"m","x":4640,"y":15.0},{"s":"m","x":4660,"y":14.6},{"s":"m","x":4680,"y":14.3},{"s":"m","x":4700,"y":14.1},{"s":"m","x":4720,"y":14.0},{"s":"m","x":4740,"y":14.1},{"s":"m","x":4760,"y":14.2},{"s":"m","x":4780,"y":14.5},{"s":"m","x":4800,"y":15.0},{"s":"m","x":4820,"y":15.5},{"s":"m","x":4840,"y":15.9},{"s":"m","x":4860,"y":16.2},{"s":"m","x":4875,"y":16.2},{"s":"m","x":4890,"y":15.9},{"s":"m","x":4910,"y":15.3},{"s":"m","x":4930,"y":14.9},{"s":"m","x":4950,"y":14.6},{"s":"m","x":4970,"y":14.0},{"s":"m","x":4990,"y":13.6},{"s":"m","x":5010,"y":13.7},{"s":"m","x":5025,"y":13.9},{"s":"m","x":5040,"y":13.6},{"s":"m","x":5060,"y":12.9},{"s":"m","x":5080,"y":12.4},{"s":"m","x":5100,"y":12.2},{"s":"m","x":5120,"y":12.3},{"s":"m","x":5140,"y":12.4},{"s":"m","x":5160,"y":12.6},{"s":"m","x":5180,"y":12.8},{"s":"m","x":5200,"y":12.8},
{"s":"c","x":4600,"y":13.9},{"s":"c","x":5200,"y":11.5},
{"s":"b","x":4600,"y":0},{"s":"b","x":4745,"y":0.03},{"s":"b","x":4765,"y":0.12},{"s":"b","x":4785,"y":0.38},{"s":"b","x":4805,"y":0.91},{"s":"b","x":4825,"y":1.7},{"s":"b","x":4845,"y":2.47},{"s":"b","x":4865,"y":2.8},{"s":"b","x":4885,"y":2.47},{"s":"b","x":4905,"y":1.7},{"s":"b","x":4925,"y":0.91},{"s":"b","x":4945,"y":0.38},{"s":"b","x":4965,"y":0.12},{"s":"b","x":4985,"y":0.03},{"s":"b","x":5200,"y":0},
{"s":"f","x":4600,"y":1.6},{"s":"f","x":4615,"y":1.4},{"s":"f","x":4630,"y":1.5},{"s":"f","x":4650,"y":1.3},{"s":"f","x":4670,"y":0.9},{"s":"f","x":4700,"y":0.5},{"s":"f","x":4730,"y":0.25},{"s":"f","x":4760,"y":0.15},{"s":"f","x":4800,"y":0.2},{"s":"f","x":4850,"y":0.3},{"s":"f","x":4890,"y":0.6},{"s":"f","x":4915,"y":1.0},{"s":"f","x":4935,"y":1.3},{"s":"f","x":4955,"y":1.0},{"s":"f","x":4975,"y":0.6},{"s":"f","x":4995,"y":0.8},{"s":"f","x":5015,"y":1.3},{"s":"f","x":5030,"y":1.45},{"s":"f","x":5045,"y":1.2},{"s":"f","x":5070,"y":0.6},{"s":"f","x":5100,"y":0.35},{"s":"f","x":5130,"y":0.4},{"s":"f","x":5160,"y":0.8},{"s":"f","x":5185,"y":1.3},{"s":"f","x":5200,"y":1.5}
],
"L4": [
{"s":"o","x":4600,"y":3.0},{"s":"o","x":4605,"y":2.85},{"s":"o","x":4610,"y":3.0},{"s":"o","x":4617,"y":2.75},{"s":"o","x":4624,"y":3.05},{"s":"o","x":4631,"y":2.9},{"s":"o","x":4638,"y":3.0},{"s":"o","x":4645,"y":2.95},{"s":"o","x":4652,"y":3.1},{"s":"o","x":4659,"y":3.2},{"s":"o","x":4664,"y":2.95},{"s":"o","x":4668,"y":3.15},{"s":"o","x":4672,"y":4.05},{"s":"o","x":4676,"y":3.2},{"s":"o","x":4680,"y":2.25},{"s":"o","x":4684,"y":3.1},{"s":"o","x":4688,"y":2.2},{"s":"o","x":4692,"y":3.1},{"s":"o","x":4698,"y":2.95},{"s":"o","x":4705,"y":3.05},{"s":"o","x":4712,"y":2.65},{"s":"o","x":4718,"y":2.9},{"s":"o","x":4724,"y":3.0},{"s":"o","x":4727,"y":4.05},{"s":"o","x":4731,"y":3.2},{"s":"o","x":4736,"y":2.95},{"s":"o","x":4742,"y":3.0},{"s":"o","x":4749,"y":2.9},{"s":"o","x":4756,"y":3.05},{"s":"o","x":4763,"y":2.95},{"s":"o","x":4770,"y":3.1},{"s":"o","x":4777,"y":3.0},{"s":"o","x":4784,"y":3.3},{"s":"o","x":4790,"y":3.3},{"s":"o","x":4795,"y":3.75},{"s":"o","x":4800,"y":3.2},{"s":"o","x":4804,"y":2.5},{"s":"o","x":4808,"y":3.25},{"s":"o","x":4815,"y":3.3},{"s":"o","x":4822,"y":3.4},{"s":"o","x":4829,"y":3.6},{"s":"o","x":4836,"y":3.7},{"s":"o","x":4843,"y":4.1},{"s":"o","x":4850,"y":4.3},{"s":"o","x":4857,"y":4.4},{"s":"o","x":4864,"y":5.2},{"s":"o","x":4869,"y":4.6},{"s":"o","x":4875,"y":4.45},{"s":"o","x":4882,"y":4.5},{"s":"o","x":4889,"y":4.0},{"s":"o","x":4896,"y":3.9},{"s":"o","x":4903,"y":3.7},{"s":"o","x":4910,"y":3.7},{"s":"o","x":4917,"y":3.5},{"s":"o","x":4924,"y":3.3},{"s":"o","x":4931,"y":3.0},{"s":"o","x":4938,"y":3.2},{"s":"o","x":4945,"y":3.35},{"s":"o","x":4950,"y":3.9},{"s":"o","x":4954,"y":5.1},{"s":"o","x":4957,"y":6.0},{"s":"o","x":4960,"y":6.3},{"s":"o","x":4963,"y":5.7},{"s":"o","x":4966,"y":4.5},{"s":"o","x":4970,"y":3.5},{"s":"o","x":4975,"y":3.1},{"s":"o","x":4982,"y":3.05},{"s":"o","x":4989,"y":3.0},{"s":"o","x":4994,"y":3.3},{"s":"o","x":4998,"y":5.0},{"s":"o","x":5001,"y":7.0},{"s":"o","x":5004,"y":10.8},{"s":"o","x":5007,"y":12.4},{"s":"o","x":5010,"y":10.9},{"s":"o","x":5013,"y":7.5},{"s":"o","x":5016,"y":5.0},{"s":"o","x":5020,"y":3.4},{"s":"o","x":5025,"y":2.9},{"s":"o","x":5032,"y":2.75},{"s":"o","x":5039,"y":2.65},{"s":"o","x":5046,"y":2.8},{"s":"o","x":5053,"y":2.6},{"s":"o","x":5060,"y":2.65},{"s":"o","x":5067,"y":2.5},{"s":"o","x":5074,"y":2.4},{"s":"o","x":5080,"y":2.6},{"s":"o","x":5087,"y":2.3},{"s":"o","x":5094,"y":2.45},{"s":"o","x":5101,"y":2.3},{"s":"o","x":5108,"y":2.5},{"s":"o","x":5115,"y":2.4},{"s":"o","x":5122,"y":2.3},{"s":"o","x":5129,"y":2.45},{"s":"o","x":5136,"y":2.3},{"s":"o","x":5143,"y":2.45},{"s":"o","x":5150,"y":2.4},{"s":"o","x":5157,"y":2.5},{"s":"o","x":5164,"y":2.35},{"s":"o","x":5171,"y":2.4},{"s":"o","x":5178,"y":2.45},{"s":"o","x":5185,"y":2.35},{"s":"o","x":5192,"y":2.4},{"s":"o","x":5200,"y":2.45},
{"s":"m","x":4600,"y":3.1},{"s":"m","x":4650,"y":3.1},{"s":"m","x":4700,"y":3.08},{"s":"m","x":4750,"y":3.1},{"s":"m","x":4800,"y":3.17},{"s":"m","x":4820,"y":3.42},{"s":"m","x":4836,"y":3.91},{"s":"m","x":4846,"y":4.27},{"s":"m","x":4856,"y":4.57},{"s":"m","x":4866,"y":4.69},{"s":"m","x":4876,"y":4.59},{"s":"m","x":4886,"y":4.31},{"s":"m","x":4896,"y":3.98},{"s":"m","x":4906,"y":3.67},{"s":"m","x":4916,"y":3.46},{"s":"m","x":4926,"y":3.33},{"s":"m","x":4936,"y":3.27},{"s":"m","x":4945,"y":3.32},{"s":"m","x":4948,"y":3.58},{"s":"m","x":4950,"y":3.94},{"s":"m","x":4952,"y":4.5},{"s":"m","x":4954,"y":5.18},{"s":"m","x":4956,"y":5.82},{"s":"m","x":4959,"y":6.28},{"s":"m","x":4962,"y":5.81},{"s":"m","x":4964,"y":5.16},{"s":"m","x":4966,"y":4.47},{"s":"m","x":4968,"y":3.91},{"s":"m","x":4970,"y":3.53},{"s":"m","x":4973,"y":3.26},{"s":"m","x":4980,"y":3.06},{"s":"m","x":4989,"y":3.02},{"s":"m","x":4993,"y":3.25},{"s":"m","x":4996,"y":4.02},{"s":"m","x":4998,"y":5.12},{"s":"m","x":5000,"y":6.79},{"s":"m","x":5002,"y":8.82},{"s":"m","x":5004,"y":10.76},{"s":"m","x":5007,"y":12.11},{"s":"m","x":5010,"y":10.73},{"s":"m","x":5012,"y":8.78},{"s":"m","x":5014,"y":6.73},{"s":"m","x":5016,"y":5.05},{"s":"m","x":5018,"y":3.94},{"s":"m","x":5021,"y":3.14},{"s":"m","x":5025,"y":2.86},{"s":"m","x":5050,"y":2.71},{"s":"m","x":5100,"y":2.57},{"s":"m","x":5150,"y":2.5},{"s":"m","x":5200,"y":2.47},
{"s":"c","x":4600,"y":3.05},{"s":"c","x":5200,"y":2.4},
{"s":"b","x":4790,"y":0.3},{"s":"b","x":4800,"y":0.34},{"s":"b","x":4816,"y":0.55},{"s":"b","x":4826,"y":0.79},{"s":"b","x":4836,"y":1.12},{"s":"b","x":4846,"y":1.49},{"s":"b","x":4856,"y":1.8},{"s":"b","x":4866,"y":1.93},{"s":"b","x":4876,"y":1.84},{"s":"b","x":4886,"y":1.57},{"s":"b","x":4896,"y":1.25},{"s":"b","x":4906,"y":0.95},{"s":"b","x":4916,"y":0.75},{"s":"b","x":4926,"y":0.63},{"s":"b","x":4936,"y":0.58},{"s":"b","x":4950,"y":0.54},
{"s":"f","x":4600,"y":0},{"s":"f","x":4650,"y":0.05},{"s":"f","x":4700,"y":0.12},{"s":"f","x":4750,"y":0.2},{"s":"f","x":4800,"y":0.3},{"s":"f","x":4850,"y":0.43},{"s":"f","x":4900,"y":0.54},{"s":"f","x":4940,"y":0.55},{"s":"f","x":4970,"y":0.47},{"s":"f","x":5000,"y":0.32},{"s":"f","x":5030,"y":0.2},{"s":"f","x":5060,"y":0.12},{"s":"f","x":5100,"y":0.06},{"s":"f","x":5150,"y":0.02},{"s":"f","x":5200,"y":0},
{"s":"n1","x":4941,"y":0.01},{"s":"n1","x":4945,"y":0.1},{"s":"n1","x":4948,"y":0.36},{"s":"n1","x":4950,"y":0.73},{"s":"n1","x":4952,"y":1.29},{"s":"n1","x":4954,"y":1.97},{"s":"n1","x":4956,"y":2.62},{"s":"n1","x":4959,"y":3.08},{"s":"n1","x":4962,"y":2.62},{"s":"n1","x":4964,"y":1.97},{"s":"n1","x":4966,"y":1.29},{"s":"n1","x":4968,"y":0.73},{"s":"n1","x":4970,"y":0.36},{"s":"n1","x":4973,"y":0.1},{"s":"n1","x":4977,"y":0.01},
{"s":"n2","x":4989,"y":0.03},{"s":"n2","x":4993,"y":0.29},{"s":"n2","x":4996,"y":1.07},{"s":"n2","x":4998,"y":2.18},{"s":"n2","x":5000,"y":3.85},{"s":"n2","x":5002,"y":5.9},{"s":"n2","x":5004,"y":7.84},{"s":"n2","x":5007,"y":9.2},{"s":"n2","x":5010,"y":7.84},{"s":"n2","x":5012,"y":5.9},{"s":"n2","x":5014,"y":3.85},{"s":"n2","x":5016,"y":2.18},{"s":"n2","x":5018,"y":1.07},{"s":"n2","x":5021,"y":0.29},{"s":"n2","x":5025,"y":0.03}
],
"R1": [
{"s":"o","x":4600,"y":5.4},{"s":"o","x":4605,"y":4.3},{"s":"o","x":4610,"y":5.0},{"s":"o","x":4615,"y":3.9},{"s":"o","x":4620,"y":6.1},{"s":"o","x":4625,"y":4.0},{"s":"o","x":4630,"y":5.9},{"s":"o","x":4635,"y":4.5},{"s":"o","x":4640,"y":4.1},{"s":"o","x":4645,"y":5.5},{"s":"o","x":4650,"y":3.7},{"s":"o","x":4655,"y":5.2},{"s":"o","x":4660,"y":3.2},{"s":"o","x":4665,"y":4.8},{"s":"o","x":4670,"y":5.8},{"s":"o","x":4675,"y":3.9},{"s":"o","x":4680,"y":5.1},{"s":"o","x":4685,"y":4.2},{"s":"o","x":4690,"y":5.6},{"s":"o","x":4695,"y":4.4},{"s":"o","x":4700,"y":5.0},{"s":"o","x":4705,"y":3.8},{"s":"o","x":4710,"y":5.2},{"s":"o","x":4715,"y":2.3},{"s":"o","x":4720,"y":4.6},{"s":"o","x":4722,"y":7.6},{"s":"o","x":4724,"y":4.4},{"s":"o","x":4726,"y":1.3},{"s":"o","x":4730,"y":3.9},{"s":"o","x":4735,"y":4.6},{"s":"o","x":4740,"y":3.4},{"s":"o","x":4745,"y":4.3},{"s":"o","x":4750,"y":3.6},{"s":"o","x":4755,"y":4.8},{"s":"o","x":4760,"y":3.3},{"s":"o","x":4765,"y":4.2},{"s":"o","x":4770,"y":5.1},{"s":"o","x":4775,"y":3.5},{"s":"o","x":4780,"y":4.5},{"s":"o","x":4785,"y":2.0},{"s":"o","x":4790,"y":5.4},{"s":"o","x":4795,"y":4.2},{"s":"o","x":4800,"y":3.4},{"s":"o","x":4805,"y":4.1},{"s":"o","x":4810,"y":3.3},{"s":"o","x":4815,"y":2.5},{"s":"o","x":4820,"y":4.6},{"s":"o","x":4825,"y":3.6},{"s":"o","x":4830,"y":5.0},{"s":"o","x":4835,"y":4.2},{"s":"o","x":4840,"y":5.4},{"s":"o","x":4845,"y":4.5},{"s":"o","x":4850,"y":5.9},{"s":"o","x":4855,"y":5.0},{"s":"o","x":4860,"y":6.4},{"s":"o","x":4865,"y":5.3},{"s":"o","x":4870,"y":6.7},{"s":"o","x":4875,"y":5.6},{"s":"o","x":4880,"y":6.9},{"s":"o","x":4885,"y":5.8},{"s":"o","x":4890,"y":7.2},{"s":"o","x":4895,"y":5.5},{"s":"o","x":4900,"y":6.8},{"s":"o","x":4905,"y":5.9},{"s":"o","x":4910,"y":6.6},{"s":"o","x":4915,"y":5.2},{"s":"o","x":4920,"y":6.2},{"s":"o","x":4925,"y":5.0},{"s":"o","x":4930,"y":5.8},{"s":"o","x":4935,"y":4.6},{"s":"o","x":4940,"y":3.5},{"s":"o","x":4945,"y":5.2},{"s":"o","x":4950,"y":4.3},{"s":"o","x":4955,"y":5.0},{"s":"o","x":4960,"y":3.4},{"s":"o","x":4965,"y":4.9},{"s":"o","x":4970,"y":3.5},{"s":"o","x":4975,"y":4.8},{"s":"o","x":4980,"y":5.4},{"s":"o","x":4985,"y":4.2},{"s":"o","x":4990,"y":6.2},{"s":"o","x":4995,"y":4.4},{"s":"o","x":5000,"y":5.3},{"s":"o","x":5005,"y":4.3},{"s":"o","x":5010,"y":5.6},{"s":"o","x":5015,"y":4.7},{"s":"o","x":5020,"y":5.8},{"s":"o","x":5025,"y":4.6},{"s":"o","x":5030,"y":5.1},{"s":"o","x":5035,"y":4.2},{"s":"o","x":5040,"y":4.9},{"s":"o","x":5045,"y":3.6},{"s":"o","x":5050,"y":4.4},{"s":"o","x":5055,"y":3.3},{"s":"o","x":5060,"y":4.6},{"s":"o","x":5065,"y":2.4},{"s":"o","x":5070,"y":3.9},{"s":"o","x":5075,"y":3.0},{"s":"o","x":5080,"y":4.4},{"s":"o","x":5085,"y":2.2},{"s":"o","x":5090,"y":3.6},{"s":"o","x":5095,"y":1.1},{"s":"o","x":5100,"y":3.8},{"s":"o","x":5105,"y":2.6},{"s":"o","x":5110,"y":4.6},{"s":"o","x":5115,"y":2.0},{"s":"o","x":5120,"y":3.7},{"s":"o","x":5125,"y":2.7},{"s":"o","x":5130,"y":4.1},{"s":"o","x":5135,"y":1.8},{"s":"o","x":5140,"y":3.9},{"s":"o","x":5145,"y":2.6},{"s":"o","x":5150,"y":5.2},{"s":"o","x":5155,"y":2.9},{"s":"o","x":5160,"y":5.5},{"s":"o","x":5165,"y":2.3},{"s":"o","x":5170,"y":4.4},{"s":"o","x":5175,"y":1.1},{"s":"o","x":5180,"y":3.9},{"s":"o","x":5185,"y":2.5},{"s":"o","x":5190,"y":5.6},{"s":"o","x":5195,"y":3.0},
{"s":"m","x":4600,"y":4.92},{"s":"m","x":4620,"y":4.85},{"s":"m","x":4640,"y":4.78},{"s":"m","x":4660,"y":4.7},{"s":"m","x":4680,"y":4.58},{"s":"m","x":4700,"y":4.45},{"s":"m","x":4720,"y":4.3},{"s":"m","x":4740,"y":4.18},{"s":"m","x":4760,"y":4.08},{"s":"m","x":4780,"y":4.0},{"s":"m","x":4795,"y":3.97},{"s":"m","x":4810,"y":4.05},{"s":"m","x":4825,"y":4.3},{"s":"m","x":4840,"y":4.8},{"s":"m","x":4855,"y":5.35},{"s":"m","x":4870,"y":5.8},{"s":"m","x":4885,"y":6.12},{"s":"m","x":4895,"y":6.2},{"s":"m","x":4905,"y":6.1},{"s":"m","x":4920,"y":5.75},{"s":"m","x":4935,"y":5.3},{"s":"m","x":4950,"y":4.85},{"s":"m","x":4962,"y":4.6},{"s":"m","x":4975,"y":4.5},{"s":"m","x":4990,"y":4.6},{"s":"m","x":5005,"y":4.85},{"s":"m","x":5020,"y":5.0},{"s":"m","x":5033,"y":4.85},{"s":"m","x":5045,"y":4.45},{"s":"m","x":5060,"y":3.95},{"s":"m","x":5075,"y":3.6},{"s":"m","x":5090,"y":3.35},{"s":"m","x":5105,"y":3.22},{"s":"m","x":5120,"y":3.18},{"s":"m","x":5140,"y":3.15},{"s":"m","x":5160,"y":3.15},{"s":"m","x":5180,"y":3.16},{"s":"m","x":5195,"y":3.18},
{"s":"c","x":4600,"y":4.3},{"s":"c","x":5195,"y":2.86},
{"s":"b","x":4600,"y":0},{"s":"b","x":4782,"y":0.01},{"s":"b","x":4802,"y":0.06},{"s":"b","x":4817,"y":0.19},{"s":"b","x":4832,"y":0.47},{"s":"b","x":4847,"y":0.96},{"s":"b","x":4862,"y":1.62},{"s":"b","x":4877,"y":2.2},{"s":"b","x":4892,"y":2.44},{"s":"b","x":4907,"y":2.2},{"s":"b","x":4922,"y":1.62},{"s":"b","x":4937,"y":0.96},{"s":"b","x":4952,"y":0.47},{"s":"b","x":4967,"y":0.19},{"s":"b","x":4982,"y":0.06},{"s":"b","x":5002,"y":0.01},{"s":"b","x":5195,"y":0},
{"s":"n1","x":4957,"y":0.02},{"s":"n1","x":4972,"y":0.1},{"s":"n1","x":4982,"y":0.25},{"s":"n1","x":4992,"y":0.51},{"s":"n1","x":5002,"y":0.86},{"s":"n1","x":5012,"y":1.17},{"s":"n1","x":5022,"y":1.3},{"s":"n1","x":5032,"y":1.17},{"s":"n1","x":5042,"y":0.86},{"s":"n1","x":5052,"y":0.51},{"s":"n1","x":5062,"y":0.25},{"s":"n1","x":5072,"y":0.1},{"s":"n1","x":5087,"y":0.02},
{"s":"f","x":4600,"y":0.7},{"s":"f","x":4650,"y":0.6},{"s":"f","x":4700,"y":0.45},{"s":"f","x":4750,"y":0.3},{"s":"f","x":4800,"y":0.2},{"s":"f","x":4850,"y":0.15},{"s":"f","x":4900,"y":0.15},{"s":"f","x":4940,"y":0.2},{"s":"f","x":4975,"y":0.32},{"s":"f","x":5000,"y":0.25},{"s":"f","x":5020,"y":0.2},{"s":"f","x":5045,"y":0.25},{"s":"f","x":5080,"y":0.15},{"s":"f","x":5120,"y":0.1},{"s":"f","x":5160,"y":0.12},{"s":"f","x":5195,"y":0.15}
],
"R2": [
{"s":"o","x":4600,"y":3.6},{"s":"o","x":4605,"y":4.0},{"s":"o","x":4610,"y":3.7},{"s":"o","x":4615,"y":4.2},{"s":"o","x":4620,"y":3.8},{"s":"o","x":4625,"y":4.3},{"s":"o","x":4630,"y":3.9},{"s":"o","x":4635,"y":3.5},{"s":"o","x":4640,"y":4.0},{"s":"o","x":4645,"y":3.6},{"s":"o","x":4650,"y":3.9},{"s":"o","x":4655,"y":4.4},{"s":"o","x":4660,"y":3.5},{"s":"o","x":4665,"y":3.8},{"s":"o","x":4670,"y":3.3},{"s":"o","x":4675,"y":3.7},{"s":"o","x":4680,"y":3.2},{"s":"o","x":4685,"y":3.6},{"s":"o","x":4690,"y":3.1},{"s":"o","x":4695,"y":3.5},{"s":"o","x":4700,"y":3.0},{"s":"o","x":4705,"y":3.6},{"s":"o","x":4710,"y":3.2},{"s":"o","x":4715,"y":3.0},{"s":"o","x":4720,"y":3.4},{"s":"o","x":4725,"y":2.9},{"s":"o","x":4730,"y":3.3},{"s":"o","x":4735,"y":3.0},{"s":"o","x":4740,"y":3.4},{"s":"o","x":4745,"y":2.9},{"s":"o","x":4750,"y":3.2},{"s":"o","x":4755,"y":3.0},{"s":"o","x":4760,"y":3.3},{"s":"o","x":4765,"y":2.9},{"s":"o","x":4770,"y":3.2},{"s":"o","x":4775,"y":3.0},{"s":"o","x":4780,"y":3.4},{"s":"o","x":4785,"y":3.1},{"s":"o","x":4790,"y":3.3},{"s":"o","x":4795,"y":3.2},{"s":"o","x":4800,"y":3.5},{"s":"o","x":4805,"y":3.2},{"s":"o","x":4810,"y":3.6},{"s":"o","x":4815,"y":3.3},{"s":"o","x":4820,"y":3.8},{"s":"o","x":4825,"y":3.5},{"s":"o","x":4830,"y":3.9},{"s":"o","x":4835,"y":3.7},{"s":"o","x":4840,"y":4.0},{"s":"o","x":4845,"y":3.8},{"s":"o","x":4850,"y":4.2},{"s":"o","x":4855,"y":4.0},{"s":"o","x":4860,"y":4.4},{"s":"o","x":4865,"y":4.1},{"s":"o","x":4870,"y":4.5},{"s":"o","x":4875,"y":4.3},{"s":"o","x":4880,"y":4.6},{"s":"o","x":4885,"y":4.4},{"s":"o","x":4890,"y":4.7},{"s":"o","x":4895,"y":4.5},{"s":"o","x":4900,"y":4.6},{"s":"o","x":4905,"y":4.4},{"s":"o","x":4910,"y":4.7},{"s":"o","x":4915,"y":4.3},{"s":"o","x":4920,"y":4.5},{"s":"o","x":4925,"y":4.1},{"s":"o","x":4930,"y":4.4},{"s":"o","x":4935,"y":4.0},{"s":"o","x":4940,"y":4.2},{"s":"o","x":4945,"y":3.8},{"s":"o","x":4950,"y":4.1},{"s":"o","x":4955,"y":3.7},{"s":"o","x":4960,"y":4.0},{"s":"o","x":4965,"y":3.8},{"s":"o","x":4970,"y":4.1},{"s":"o","x":4975,"y":3.7},{"s":"o","x":4980,"y":3.9},{"s":"o","x":4985,"y":3.6},{"s":"o","x":4990,"y":3.9},{"s":"o","x":4995,"y":3.7},{"s":"o","x":5000,"y":3.8},{"s":"o","x":5005,"y":3.6},{"s":"o","x":5010,"y":3.9},{"s":"o","x":5015,"y":3.7},{"s":"o","x":5020,"y":4.0},{"s":"o","x":5025,"y":3.8},{"s":"o","x":5030,"y":3.9},{"s":"o","x":5035,"y":3.5},{"s":"o","x":5040,"y":3.8},{"s":"o","x":5045,"y":3.4},{"s":"o","x":5050,"y":3.6},{"s":"o","x":5055,"y":3.2},{"s":"o","x":5060,"y":3.5},{"s":"o","x":5065,"y":2.9},{"s":"o","x":5070,"y":3.3},{"s":"o","x":5075,"y":2.6},{"s":"o","x":5080,"y":2.2},{"s":"o","x":5085,"y":3.0},{"s":"o","x":5090,"y":2.6},{"s":"o","x":5095,"y":2.9},{"s":"o","x":5100,"y":2.6},{"s":"o","x":5105,"y":2.9},{"s":"o","x":5110,"y":2.5},{"s":"o","x":5115,"y":2.8},{"s":"o","x":5120,"y":2.6},{"s":"o","x":5125,"y":2.9},{"s":"o","x":5130,"y":2.5},{"s":"o","x":5135,"y":2.8},{"s":"o","x":5140,"y":2.6},{"s":"o","x":5145,"y":2.9},{"s":"o","x":5150,"y":2.7},{"s":"o","x":5155,"y":2.8},{"s":"o","x":5160,"y":2.6},{"s":"o","x":5165,"y":2.9},{"s":"o","x":5170,"y":2.7},{"s":"o","x":5175,"y":3.0},{"s":"o","x":5180,"y":2.8},{"s":"o","x":5185,"y":3.0},{"s":"o","x":5190,"y":2.9},{"s":"o","x":5195,"y":3.1},
{"s":"m","x":4600,"y":3.9},{"s":"m","x":4620,"y":3.82},{"s":"m","x":4640,"y":3.72},{"s":"m","x":4660,"y":3.6},{"s":"m","x":4680,"y":3.45},{"s":"m","x":4700,"y":3.32},{"s":"m","x":4720,"y":3.2},{"s":"m","x":4740,"y":3.12},{"s":"m","x":4760,"y":3.1},{"s":"m","x":4780,"y":3.15},{"s":"m","x":4800,"y":3.3},{"s":"m","x":4820,"y":3.55},{"s":"m","x":4840,"y":3.85},{"s":"m","x":4860,"y":4.2},{"s":"m","x":4880,"y":4.45},{"s":"m","x":4895,"y":4.55},{"s":"m","x":4910,"y":4.5},{"s":"m","x":4925,"y":4.3},{"s":"m","x":4940,"y":4.1},{"s":"m","x":4955,"y":3.95},{"s":"m","x":4970,"y":3.85},{"s":"m","x":4985,"y":3.8},{"s":"m","x":5000,"y":3.8},{"s":"m","x":5015,"y":3.85},{"s":"m","x":5025,"y":3.85},{"s":"m","x":5040,"y":3.7},{"s":"m","x":5055,"y":3.45},{"s":"m","x":5070,"y":3.15},{"s":"m","x":5085,"y":2.95},{"s":"m","x":5100,"y":2.85},{"s":"m","x":5120,"y":2.78},{"s":"m","x":5140,"y":2.75},{"s":"m","x":5160,"y":2.8},{"s":"m","x":5180,"y":2.88},{"s":"m","x":5195,"y":2.95},
{"s":"c","x":4600,"y":2.95},{"s":"c","x":5195,"y":2.45},
{"s":"b","x":4600,"y":0},{"s":"b","x":4775,"y":0.02},{"s":"b","x":4795,"y":0.07},{"s":"b","x":4815,"y":0.22},{"s":"b","x":4835,"y":0.54},{"s":"b","x":4855,"y":1.0},{"s":"b","x":4875,"y":1.46},{"s":"b","x":4895,"y":1.65},{"s":"b","x":4915,"y":1.46},{"s":"b","x":4935,"y":1.0},{"s":"b","x":4955,"y":0.54},{"s":"b","x":4975,"y":0.22},{"s":"b","x":4995,"y":0.07},{"s":"b","x":5015,"y":0.02},{"s":"b","x":5195,"y":0},
{"s":"f","x":4600,"y":1.0},{"s":"f","x":4630,"y":0.9},{"s":"f","x":4660,"y":0.8},{"s":"f","x":4690,"y":0.6},{"s":"f","x":4720,"y":0.35},{"s":"f","x":4750,"y":0.15},{"s":"f","x":4780,"y":0.05},{"s":"f","x":4820,"y":0.05},{"s":"f","x":4860,"y":0.1},{"s":"f","x":4900,"y":0.15},{"s":"f","x":4930,"y":0.3},{"s":"f","x":4960,"y":0.5},{"s":"f","x":4980,"y":0.45},{"s":"f","x":5000,"y":0.25},{"s":"f","x":5020,"y":0.3},{"s":"f","x":5045,"y":0.5},{"s":"f","x":5060,"y":0.55},{"s":"f","x":5080,"y":0.4},{"s":"f","x":5110,"y":0.2},{"s":"f","x":5140,"y":0.15},{"s":"f","x":5170,"y":0.2},{"s":"f","x":5195,"y":0.3},
{"s":"n1","x":4977,"y":0.03},{"s":"n1","x":4986,"y":0.1},{"s":"n1","x":4995,"y":0.24},{"s":"n1","x":5004,"y":0.46},{"s":"n1","x":5013,"y":0.66},{"s":"n1","x":5022,"y":0.75},{"s":"n1","x":5031,"y":0.66},{"s":"n1","x":5040,"y":0.46},{"s":"n1","x":5049,"y":0.24},{"s":"n1","x":5058,"y":0.1},{"s":"n1","x":5067,"y":0.03}
],
"R3": [
{"s":"o","x":4600,"y":18.6},{"s":"o","x":4610,"y":19.3},{"s":"o","x":4620,"y":18.9},{"s":"o","x":4630,"y":19.6},{"s":"o","x":4640,"y":18.4},{"s":"o","x":4650,"y":18.9},{"s":"o","x":4660,"y":17.5},{"s":"o","x":4670,"y":17.9},{"s":"o","x":4680,"y":16.8},{"s":"o","x":4690,"y":17.1},{"s":"o","x":4700,"y":16.2},{"s":"o","x":4710,"y":16.6},{"s":"o","x":4720,"y":15.7},{"s":"o","x":4730,"y":16.3},{"s":"o","x":4740,"y":15.8},{"s":"o","x":4750,"y":16.4},{"s":"o","x":4760,"y":15.9},{"s":"o","x":4770,"y":16.3},{"s":"o","x":4780,"y":15.6},{"s":"o","x":4790,"y":16.1},{"s":"o","x":4800,"y":15.8},{"s":"o","x":4810,"y":16.6},{"s":"o","x":4820,"y":16.9},{"s":"o","x":4830,"y":17.8},{"s":"o","x":4840,"y":18.7},{"s":"o","x":4850,"y":19.8},{"s":"o","x":4860,"y":20.8},{"s":"o","x":4870,"y":21.2},{"s":"o","x":4880,"y":20.1},{"s":"o","x":4890,"y":19.3},{"s":"o","x":4900,"y":18.3},{"s":"o","x":4910,"y":18.9},{"s":"o","x":4920,"y":18.4},{"s":"o","x":4930,"y":17.9},{"s":"o","x":4940,"y":16.8},{"s":"o","x":4950,"y":15.9},{"s":"o","x":4960,"y":15.2},{"s":"o","x":4970,"y":15.6},{"s":"o","x":4980,"y":15.3},{"s":"o","x":4990,"y":15.8},{"s":"o","x":5000,"y":15.7},{"s":"o","x":5010,"y":16.4},{"s":"o","x":5020,"y":16.9},{"s":"o","x":5030,"y":16.2},{"s":"o","x":5040,"y":15.5},{"s":"o","x":5050,"y":15.1},{"s":"o","x":5060,"y":14.3},{"s":"o","x":5070,"y":14.0},{"s":"o","x":5080,"y":13.4},{"s":"o","x":5090,"y":13.7},{"s":"o","x":5100,"y":13.2},{"s":"o","x":5110,"y":13.6},{"s":"o","x":5120,"y":13.4},{"s":"o","x":5130,"y":13.9},{"s":"o","x":5140,"y":14.1},{"s":"o","x":5150,"y":14.6},{"s":"o","x":5160,"y":14.5},{"s":"o","x":5170,"y":15.0},{"s":"o","x":5180,"y":14.7},{"s":"o","x":5190,"y":14.9},{"s":"o","x":5195,"y":14.6},
{"s":"m","x":4600,"y":19.2},{"s":"m","x":4615,"y":19.4},{"s":"m","x":4630,"y":19.5},{"s":"m","x":4645,"y":19.0},{"s":"m","x":4660,"y":18.2},{"s":"m","x":4680,"y":17.2},{"s":"m","x":4700,"y":16.4},{"s":"m","x":4720,"y":16.0},{"s":"m","x":4740,"y":16.0},{"s":"m","x":4760,"y":16.1},{"s":"m","x":4780,"y":15.9},{"s":"m","x":4800,"y":16.0},{"s":"m","x":4815,"y":16.5},{"s":"m","x":4830,"y":17.5},{"s":"m","x":4845,"y":19.2},{"s":"m","x":4858,"y":20.6},{"s":"m","x":4866,"y":21.0},{"s":"m","x":4875,"y":20.6},{"s":"m","x":4885,"y":19.5},{"s":"m","x":4895,"y":18.7},{"s":"m","x":4905,"y":18.5},{"s":"m","x":4915,"y":18.6},{"s":"m","x":4925,"y":18.3},{"s":"m","x":4940,"y":17.0},{"s":"m","x":4955,"y":15.8},{"s":"m","x":4970,"y":15.4},{"s":"m","x":4985,"y":15.5},{"s":"m","x":5000,"y":15.9},{"s":"m","x":5015,"y":16.5},{"s":"m","x":5025,"y":16.6},{"s":"m","x":5040,"y":15.9},{"s":"m","x":5055,"y":14.9},{"s":"m","x":5070,"y":14.1},{"s":"m","x":5085,"y":13.6},{"s":"m","x":5100,"y":13.4},{"s":"m","x":5115,"y":13.5},{"s":"m","x":5130,"y":13.8},{"s":"m","x":5150,"y":14.4},{"s":"m","x":5165,"y":14.8},{"s":"m","x":5180,"y":14.9},{"s":"m","x":5195,"y":14.7},
{"s":"c","x":4600,"y":15.3},{"s":"c","x":5195,"y":11.7},
{"s":"b","x":4600,"y":0},{"s":"b","x":4776,"y":0.04},{"s":"b","x":4796,"y":0.28},{"s":"b","x":4810,"y":0.86},{"s":"b","x":4824,"y":2.08},{"s":"b","x":4838,"y":3.88},{"s":"b","x":4852,"y":5.65},{"s":"b","x":4866,"y":6.4},{"s":"b","x":4880,"y":5.65},{"s":"b","x":4894,"y":3.88},{"s":"b","x":4908,"y":2.08},{"s":"b","x":4922,"y":0.86},{"s":"b","x":4936,"y":0.28},{"s":"b","x":4956,"y":0.04},{"s":"b","x":5195,"y":0},
{"s":"f","x":4600,"y":3.6},{"s":"f","x":4615,"y":3.9},{"s":"f","x":4630,"y":3.7},{"s":"f","x":4650,"y":3.0},{"s":"f","x":4670,"y":2.2},{"s":"f","x":4690,"y":1.4},{"s":"f","x":4710,"y":0.8},{"s":"f","x":4730,"y":0.45},{"s":"f","x":4750,"y":0.3},{"s":"f","x":4780,"y":0.3},{"s":"f","x":4810,"y":0.45},{"s":"f","x":4840,"y":0.8},{"s":"f","x":4870,"y":1.4},{"s":"f","x":4895,"y":2.3},{"s":"f","x":4915,"y":3.0},{"s":"f","x":4930,"y":3.1},{"s":"f","x":4945,"y":2.5},{"s":"f","x":4960,"y":1.4},{"s":"f","x":4975,"y":0.9},{"s":"f","x":4990,"y":1.2},{"s":"f","x":5005,"y":2.2},{"s":"f","x":5020,"y":3.0},{"s":"f","x":5035,"y":2.8},{"s":"f","x":5050,"y":2.0},{"s":"f","x":5065,"y":1.2},{"s":"f","x":5080,"y":0.7},{"s":"f","x":5100,"y":0.5},{"s":"f","x":5120,"y":0.7},{"s":"f","x":5140,"y":1.5},{"s":"f","x":5160,"y":2.6},{"s":"f","x":5180,"y":3.2},{"s":"f","x":5195,"y":3.3}
],
"R4": [
{"s":"o","x":4600,"y":15.4},{"s":"o","x":4605,"y":16.2},{"s":"o","x":4610,"y":15.1},{"s":"o","x":4620,"y":14.4},{"s":"o","x":4630,"y":14.9},{"s":"o","x":4640,"y":14.2},{"s":"o","x":4650,"y":14.6},{"s":"o","x":4660,"y":14.1},{"s":"o","x":4670,"y":14.8},{"s":"o","x":4680,"y":14.3},{"s":"o","x":4690,"y":14.0},{"s":"o","x":4700,"y":14.3},{"s":"o","x":4710,"y":13.6},{"s":"o","x":4720,"y":14.1},{"s":"o","x":4730,"y":13.4},{"s":"o","x":4740,"y":13.7},{"s":"o","x":4750,"y":13.2},{"s":"o","x":4760,"y":13.5},{"s":"o","x":4770,"y":13.4},{"s":"o","x":4780,"y":13.8},{"s":"o","x":4790,"y":13.5},{"s":"o","x":4800,"y":13.9},{"s":"o","x":4810,"y":13.8},{"s":"o","x":4820,"y":14.2},{"s":"o","x":4830,"y":14.5},{"s":"o","x":4840,"y":14.9},{"s":"o","x":4850,"y":15.6},{"s":"o","x":4860,"y":16.4},{"s":"o","x":4870,"y":18.3},{"s":"o","x":4880,"y":20.9},{"s":"o","x":4890,"y":22.6},{"s":"o","x":4898,"y":23.1},{"s":"o","x":4905,"y":22.7},{"s":"o","x":4912,"y":21.2},{"s":"o","x":4920,"y":18.9},{"s":"o","x":4928,"y":17.1},{"s":"o","x":4936,"y":16.2},{"s":"o","x":4944,"y":15.0},{"s":"o","x":4952,"y":14.8},{"s":"o","x":4960,"y":15.1},{"s":"o","x":4968,"y":14.7},{"s":"o","x":4976,"y":15.2},{"s":"o","x":4984,"y":14.8},{"s":"o","x":4992,"y":15.3},{"s":"o","x":5000,"y":14.4},{"s":"o","x":5006,"y":14.0},{"s":"o","x":5012,"y":14.6},{"s":"o","x":5020,"y":15.4},{"s":"o","x":5028,"y":15.8},{"s":"o","x":5034,"y":16.1},{"s":"o","x":5040,"y":15.5},{"s":"o","x":5046,"y":14.9},{"s":"o","x":5052,"y":15.2},{"s":"o","x":5058,"y":14.1},{"s":"o","x":5066,"y":13.3},{"s":"o","x":5074,"y":12.8},{"s":"o","x":5082,"y":12.6},{"s":"o","x":5090,"y":12.3},{"s":"o","x":5100,"y":12.4},{"s":"o","x":5110,"y":11.8},{"s":"o","x":5120,"y":12.2},{"s":"o","x":5130,"y":11.6},{"s":"o","x":5140,"y":12.0},{"s":"o","x":5150,"y":11.7},{"s":"o","x":5160,"y":12.3},{"s":"o","x":5170,"y":12.1},{"s":"o","x":5180,"y":12.5},{"s":"o","x":5190,"y":12.3},{"s":"o","x":5195,"y":12.5},
{"s":"m","x":4600,"y":15.1},{"s":"m","x":4630,"y":14.8},{"s":"m","x":4662,"y":14.5},{"s":"m","x":4690,"y":14.2},{"s":"m","x":4714,"y":13.9},{"s":"m","x":4730,"y":13.6},{"s":"m","x":4748,"y":13.35},{"s":"m","x":4770,"y":13.3},{"s":"m","x":4791,"y":13.4},{"s":"m","x":4810,"y":13.7},{"s":"m","x":4834,"y":14.6},{"s":"m","x":4848,"y":15.5},{"s":"m","x":4860,"y":16.7},{"s":"m","x":4870,"y":18.4},{"s":"m","x":4881,"y":20.5},{"s":"m","x":4891,"y":21.9},{"s":"m","x":4901,"y":22.3},{"s":"m","x":4911,"y":21.6},{"s":"m","x":4920,"y":19.8},{"s":"m","x":4928,"y":18.0},{"s":"m","x":4937,"y":16.3},{"s":"m","x":4948,"y":15.2},{"s":"m","x":4959,"y":14.65},{"s":"m","x":4975,"y":14.5},{"s":"m","x":4990,"y":14.5},{"s":"m","x":5006,"y":14.2},{"s":"m","x":5015,"y":14.7},{"s":"m","x":5025,"y":15.5},{"s":"m","x":5032,"y":15.9},{"s":"m","x":5040,"y":15.6},{"s":"m","x":5050,"y":14.6},{"s":"m","x":5062,"y":13.5},{"s":"m","x":5077,"y":12.7},{"s":"m","x":5092,"y":12.2},{"s":"m","x":5107,"y":12.0},{"s":"m","x":5122,"y":11.9},{"s":"m","x":5140,"y":11.9},{"s":"m","x":5157,"y":12.0},{"s":"m","x":5175,"y":12.1},{"s":"m","x":5195,"y":12.2},
{"s":"c","x":4600,"y":13.1},{"s":"c","x":5195,"y":11.1},
{"s":"b","x":4700,"y":0.1},{"s":"b","x":4750,"y":0.45},{"s":"b","x":4800,"y":1.1},{"s":"b","x":4830,"y":1.7},{"s":"b","x":4850,"y":2.5},{"s":"b","x":4865,"y":4.0},{"s":"b","x":4875,"y":5.6},{"s":"b","x":4885,"y":7.5},{"s":"b","x":4893,"y":8.9},{"s":"b","x":4901,"y":9.65},{"s":"b","x":4910,"y":9.1},{"s":"b","x":4920,"y":7.4},{"s":"b","x":4930,"y":5.2},{"s":"b","x":4940,"y":3.2},{"s":"b","x":4950,"y":1.9},{"s":"b","x":4960,"y":1.2},{"s":"b","x":4975,"y":0.8},{"s":"b","x":4990,"y":0.5},{"s":"b","x":5010,"y":0.3},{"s":"b","x":5050,"y":0.1},{"s":"b","x":5100,"y":0},
{"s":"n1","x":4995,"y":0.03},{"s":"n1","x":5005,"y":0.22},{"s":"n1","x":5011,"y":0.58},{"s":"n1","x":5017,"y":1.21},{"s":"n1","x":5023,"y":2.07},{"s":"n1","x":5029,"y":2.85},{"s":"n1","x":5035,"y":3.17},{"s":"n1","x":5041,"y":2.85},{"s":"n1","x":5047,"y":2.07},{"s":"n1","x":5053,"y":1.21},{"s":"n1","x":5059,"y":0.58},{"s":"n1","x":5065,"y":0.22},{"s":"n1","x":5075,"y":0.03},
{"s":"f","x":4600,"y":1.95},{"s":"f","x":4630,"y":1.6},{"s":"f","x":4660,"y":1.2},{"s":"f","x":4690,"y":0.85},{"s":"f","x":4720,"y":0.55},{"s":"f","x":4750,"y":0.4},{"s":"f","x":4780,"y":0.35},{"s":"f","x":4810,"y":0.38},{"s":"f","x":4850,"y":0.45},{"s":"f","x":4890,"y":0.55},{"s":"f","x":4920,"y":0.75},{"s":"f","x":4950,"y":1.05},{"s":"f","x":4975,"y":1.3},{"s":"f","x":4995,"y":1.05},{"s":"f","x":5010,"y":0.8},{"s":"f","x":5030,"y":0.95},{"s":"f","x":5060,"y":1.3},{"s":"f","x":5085,"y":1.0},{"s":"f","x":5110,"y":0.7},{"s":"f","x":5140,"y":0.6},{"s":"f","x":5170,"y":0.8},{"s":"f","x":5195,"y":1.1}
]
},
"config": {
 "view": {"stroke": "black", "strokeWidth": 1},
 "axis": {"grid": false, "title": null, "domainColor": "black", "domainWidth": 1, "tickColor": "black", "tickWidth": 1, "tickSize": -6, "labelPadding": 10, "labelFont": "Liberation Serif", "labelFontSize": 18.5, "labelColor": "black", "labelOverlap": false, "labelFlush": false, "format": "~g"},
 "line": {"color": "black"},
 "text": {"font": "Liberation Serif", "fontSize": 21, "baseline": "alphabetic", "color": "black"},
 "title": {"font": "Liberation Serif", "fontWeight": "normal", "color": "black"}
}
}
